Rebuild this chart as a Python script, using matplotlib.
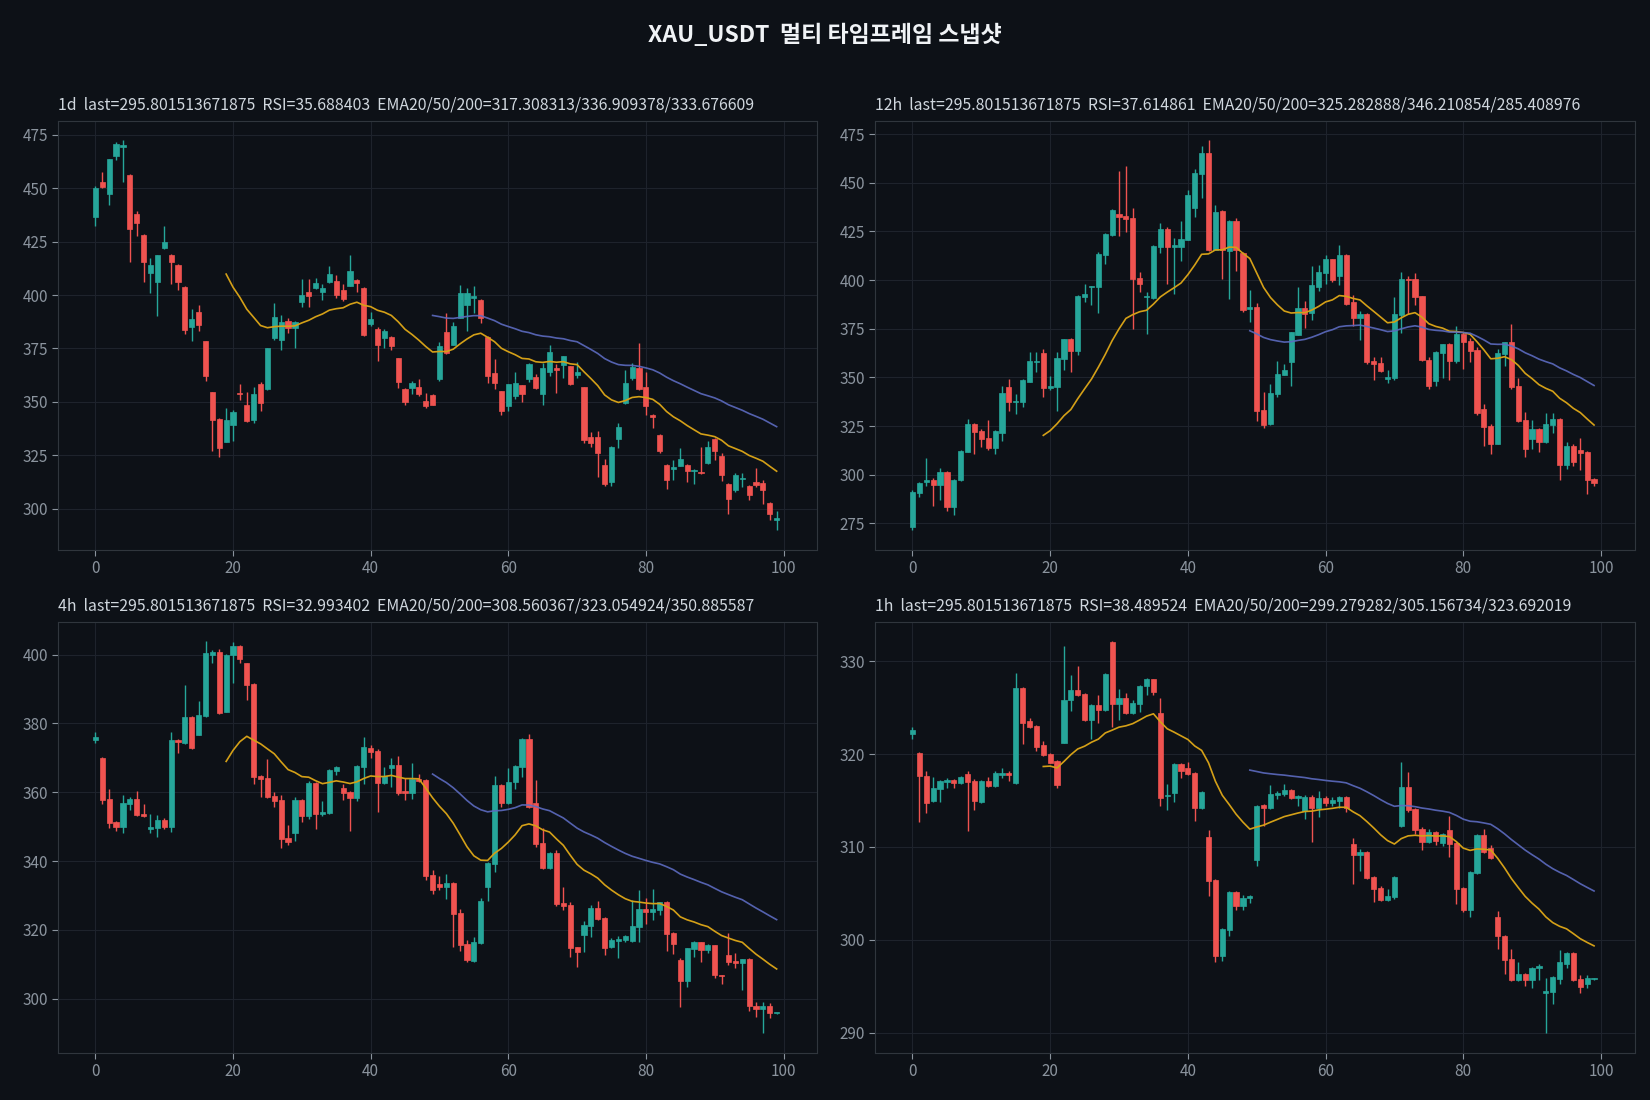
import numpy as np
import pandas as pd
import matplotlib
matplotlib.use('Agg')
import matplotlib.pyplot as plt
from matplotlib.ticker import MultipleLocator

plt.rcParams['font.family'] = ['Noto Sans CJK KR', 'DejaVu Sans']

symbol = 'XAU_USDT'
timeframes = ['1d', '12h', '4h', '1h']
last_price = '295.801513671875'
rsi_values = ['35.688403', '37.614861', '32.993402', '38.489524']
ema_values = ['317.308313/336.909378/333.676609',
              '325.282888/346.210854/285.408976',
              '308.560367/323.054924/350.885587',
              '299.279282/305.156734/323.692019']

# 1d candles
d1_open = [436.7, 452.7, 447.4, 465.1, 469.0, 455.9, 437.8, 428.0, 410.4, 406.0,
           421.8, 418.7, 414.1, 403.9, 385.1, 392.2, 378.3, 354.6, 342.0, 331.5,
           339.1, 354.2, 348.5, 341.5, 358.3, 356.0, 380.0, 379.1, 387.9, 384.8,
           396.9, 401.5, 403.1, 401.4, 406.0, 406.6, 402.5, 404.2, 407.1, 403.4,
           386.5, 383.9, 379.7, 380.6, 370.4, 356.0, 356.7, 357.0, 350.4, 353.2,
           360.5, 382.9, 376.6, 389.4, 395.3, 398.7, 397.8, 380.6, 363.4, 355.0,
           347.9, 352.6, 357.8, 360.5, 361.5, 353.6, 364.2, 365.7, 367.1, 366.7,
           362.6, 356.9, 333.6, 333.6, 320.6, 312.7, 332.7, 349.4, 361.1, 365.7,
           357.2, 343.9, 334.6, 320.6, 318.8, 320.2, 320.6, 317.8, 317.4, 321.4,
           332.7, 324.8, 311.8, 309.0, 314.1, 310.9, 312.7, 312.3, 302.9, 294.6]
d1_high = [451.0, 457.5, 463.4, 471.4, 472.4, 456.4, 439.4, 428.3, 417.5, 418.9,
           432.4, 419.0, 414.4, 404.2, 393.3, 395.2, 378.5, 354.8, 342.3, 347.1,
           346.4, 358.3, 354.6, 357.0, 359.5, 375.2, 396.4, 390.8, 389.4, 387.8,
           407.3, 407.3, 408.1, 405.0, 413.8, 409.4, 405.3, 418.9, 407.4, 403.8,
           392.2, 385.0, 384.3, 380.9, 370.7, 356.3, 360.0, 360.8, 354.3, 353.6,
           377.8, 391.5, 387.3, 404.5, 403.1, 404.0, 398.1, 380.9, 370.1, 355.3,
           358.6, 364.0, 358.1, 368.2, 363.1, 368.2, 376.6, 367.7, 371.5, 367.0,
           368.5, 357.2, 336.1, 336.6, 323.4, 329.6, 340.3, 364.8, 368.0, 377.4,
           363.9, 344.2, 334.9, 320.9, 322.9, 328.5, 320.9, 318.8, 329.0, 331.8,
           333.0, 326.2, 312.1, 316.9, 316.6, 311.3, 319.2, 313.6, 303.4, 299.2]
d1_low = [432.4, 449.9, 442.3, 463.2, 453.0, 415.3, 427.7, 406.0, 400.9, 390.2,
          421.6, 405.1, 402.3, 381.8, 378.4, 383.0, 359.8, 327.3, 324.2, 331.2,
          331.9, 351.0, 340.6, 340.0, 345.6, 355.8, 379.0, 374.4, 382.3, 375.0,
          394.4, 394.4, 402.8, 397.7, 405.6, 398.6, 397.2, 404.0, 401.4, 380.9,
          385.6, 369.1, 375.3, 374.4, 356.7, 348.8, 353.9, 353.0, 347.0, 348.4,
          360.0, 372.5, 376.4, 389.2, 383.2, 391.5, 387.0, 358.8, 356.0, 343.7,
          346.0, 351.2, 349.9, 359.5, 356.1, 348.8, 362.3, 354.4, 361.2, 358.0,
          361.1, 330.9, 328.8, 315.0, 310.9, 310.9, 328.5, 349.2, 360.2, 355.7,
          344.0, 337.8, 326.2, 309.5, 313.6, 320.0, 312.7, 311.8, 316.5, 321.0,
          322.9, 313.2, 297.8, 308.1, 310.4, 304.3, 310.0, 302.5, 295.0, 289.9]
d1_close = [449.9, 450.7, 463.4, 470.8, 470.0, 431.1, 433.6, 415.3, 414.1, 418.7,
            424.9, 415.3, 406.0, 383.7, 388.7, 386.0, 362.3, 341.5, 328.4, 341.5,
            345.3, 353.5, 340.9, 353.6, 349.3, 375.0, 389.9, 387.6, 384.8, 387.6,
            400.1, 399.7, 405.7, 403.4, 409.9, 400.1, 398.1, 411.3, 405.7, 381.4,
            388.7, 376.6, 383.4, 376.3, 359.5, 350.2, 358.9, 353.5, 347.9, 348.8,
            376.0, 373.0, 385.3, 401.0, 401.0, 399.7, 389.4, 362.0, 358.8, 345.7,
            358.3, 358.8, 353.9, 367.6, 356.4, 365.7, 373.2, 365.1, 371.3, 358.3,
            363.9, 332.4, 330.9, 326.2, 311.8, 329.0, 338.3, 358.8, 366.2, 356.0,
            348.1, 343.1, 327.0, 313.6, 319.5, 323.4, 317.8, 318.3, 316.7, 329.0,
            327.1, 316.0, 304.8, 316.0, 314.6, 306.7, 311.3, 309.0, 297.4, 295.8]

# 12h candles
h12_open = [273.3, 290.4, 296.0, 297.0, 294.8, 301.6, 283.5, 297.0, 311.8, 326.2,
            322.6, 319.0, 313.9, 321.5, 345.1, 337.4, 337.4, 347.6, 357.9, 362.5,
            344.6, 345.1, 359.4, 369.6, 363.5, 391.1, 396.2, 396.2, 413.1, 423.3,
            434.1, 433.0, 432.0, 401.2, 391.1, 390.9, 417.2, 426.4, 417.2, 417.2,
            420.8, 437.1, 454.5, 465.3, 415.5, 435.6, 415.2, 430.5, 414.1, 385.0,
            386.0, 333.3, 326.2, 341.5, 351.2, 357.9, 372.0, 385.5, 382.9, 396.6,
            403.4, 410.6, 401.9, 413.1, 388.6, 380.4, 382.4, 358.4, 357.4, 349.2,
            349.7, 381.9, 400.8, 400.8, 391.6, 358.9, 348.1, 362.5, 367.1, 358.4,
            372.2, 368.6, 364.0, 333.8, 325.1, 315.9, 362.0, 368.1, 345.6, 328.2,
            318.5, 323.6, 316.9, 325.6, 328.7, 305.2, 314.9, 312.9, 311.8, 298.0]
h12_high = [292.0, 296.1, 308.4, 298.5, 303.6, 301.9, 297.8, 312.5, 328.7, 326.7,
            323.6, 328.2, 322.8, 345.6, 349.2, 341.5, 349.2, 363.0, 363.0, 364.5,
            350.7, 363.0, 369.8, 370.1, 392.1, 397.8, 396.9, 414.6, 424.0, 436.3,
            456.1, 458.6, 437.1, 404.0, 393.7, 417.9, 429.1, 427.4, 421.8, 430.5,
            446.4, 457.1, 468.9, 471.9, 438.7, 435.9, 430.7, 432.0, 414.4, 394.7,
            388.0, 342.5, 346.6, 358.4, 356.8, 373.4, 396.2, 389.1, 407.0, 407.5,
            413.1, 410.9, 418.2, 413.4, 392.1, 384.0, 382.9, 360.4, 360.4, 353.8,
            391.1, 403.9, 401.9, 403.4, 391.9, 360.4, 363.5, 367.3, 367.6, 376.3,
            373.2, 370.1, 365.5, 336.4, 326.2, 364.5, 368.3, 377.3, 349.7, 332.3,
            328.2, 323.9, 331.8, 331.8, 329.0, 316.9, 315.9, 319.0, 312.1, 298.5]
h12_low = [271.3, 288.6, 294.3, 284.0, 287.1, 281.5, 279.4, 296.8, 311.6, 310.8,
           314.4, 312.9, 310.8, 317.5, 332.8, 331.3, 334.8, 347.4, 352.8, 340.0,
           343.5, 332.8, 353.8, 352.8, 361.4, 388.6, 387.0, 382.9, 408.5, 422.8,
           422.8, 424.9, 375.1, 394.0, 372.2, 390.4, 414.0, 397.8, 393.0, 410.0,
           420.6, 432.4, 442.3, 415.0, 415.3, 400.8, 390.1, 404.8, 383.4, 378.3,
           327.7, 324.1, 325.6, 340.0, 351.0, 345.6, 371.7, 375.3, 379.3, 394.2,
           397.8, 398.8, 397.3, 387.4, 376.3, 369.0, 356.8, 348.7, 352.8, 347.1,
           348.7, 372.7, 382.4, 387.0, 358.4, 344.1, 345.6, 349.7, 348.7, 357.4,
           354.3, 357.9, 330.8, 314.9, 310.8, 315.7, 355.8, 344.1, 327.2, 309.3,
           313.4, 311.8, 316.4, 321.5, 297.5, 303.1, 304.2, 302.6, 289.8, 294.4]
h12_close = [290.9, 295.5, 297.0, 294.8, 301.6, 283.5, 297.5, 312.3, 326.2, 322.1,
             318.5, 313.9, 322.6, 342.0, 337.4, 337.9, 348.7, 358.4, 358.4, 344.6,
             345.6, 359.9, 369.6, 363.5, 391.6, 392.6, 396.7, 413.6, 423.8, 436.1,
             432.5, 431.5, 400.7, 397.8, 391.6, 417.7, 426.4, 417.2, 417.7, 421.3,
             443.8, 455.1, 465.3, 415.5, 435.1, 415.5, 430.5, 415.5, 384.5, 386.0,
             332.8, 325.6, 342.0, 351.7, 353.8, 373.2, 385.5, 382.8, 397.3, 404.4,
             410.6, 399.8, 413.1, 387.9, 380.4, 382.4, 357.9, 356.8, 353.3, 350.2,
             382.4, 400.8, 399.8, 391.1, 358.9, 345.6, 363.0, 367.1, 358.4, 372.2,
             368.1, 363.5, 331.8, 324.6, 315.9, 362.5, 368.1, 345.1, 327.7, 313.4,
             323.6, 316.9, 326.2, 328.7, 305.2, 314.9, 306.7, 311.3, 297.5, 295.8]

# 4h candles
h4_open = [375.2, 370.0, 358.1, 351.4, 349.9, 356.5, 358.1, 353.7, 349.4, 349.6,
           351.9, 349.9, 375.2, 374.3, 381.9, 376.7, 382.1, 400.0, 400.6, 383.4,
           400.0, 402.6, 397.4, 391.3, 364.8, 364.2, 358.9, 357.8, 346.7, 348.1,
           357.8, 353.1, 362.7, 353.7, 354.0, 366.2, 361.3, 360.1, 358.3, 367.4,
           372.9, 372.0, 362.7, 367.1, 368.0, 360.4, 359.8, 363.9, 363.6, 335.9,
           333.3, 332.4, 333.6, 324.8, 315.8, 310.9, 316.1, 332.4, 339.1, 362.1,
           356.9, 363.0, 367.4, 375.5, 356.9, 345.2, 338.0, 342.3, 327.8, 327.2,
           314.9, 318.4, 321.1, 326.3, 323.4, 314.9, 316.7, 317.0, 316.7, 320.8,
           326.0, 325.1, 325.7, 328.0, 319.0, 311.2, 305.0, 314.4, 316.4, 314.1,
           315.5, 306.8, 312.6, 310.9, 310.3, 311.4, 298.0, 296.9, 297.8, 295.7]
h4_high = [377.6, 370.2, 360.8, 351.6, 359.2, 358.6, 360.4, 356.6, 353.7, 353.4,
           352.5, 377.6, 375.4, 391.1, 382.2, 386.6, 403.8, 401.3, 401.5, 400.2,
           403.5, 402.9, 397.6, 391.8, 365.0, 369.7, 360.1, 359.2, 350.5, 358.6,
           358.1, 363.3, 363.0, 357.5, 366.7, 367.6, 362.4, 360.4, 368.0, 376.1,
           373.8, 372.6, 367.4, 370.0, 370.6, 364.2, 368.5, 365.3, 363.9, 337.4,
           335.6, 336.2, 333.9, 326.0, 317.0, 317.9, 329.2, 339.6, 364.8, 362.4,
           367.1, 367.9, 375.7, 377.0, 363.6, 349.6, 342.6, 343.2, 332.4, 328.0,
           315.1, 322.5, 327.2, 328.3, 323.7, 317.6, 318.1, 318.4, 328.6, 331.5,
           329.2, 331.8, 328.2, 328.3, 319.3, 311.7, 314.8, 316.7, 316.6, 315.8,
           315.7, 307.0, 319.0, 313.2, 311.6, 311.7, 298.9, 298.9, 298.6, 295.9]
h4_low = [374.3, 356.5, 349.5, 348.6, 348.2, 354.8, 353.0, 352.7, 348.0, 347.0,
          349.3, 348.4, 371.5, 374.0, 372.5, 376.5, 381.9, 397.4, 382.8, 383.2,
          391.8, 397.6, 386.9, 362.4, 358.6, 358.3, 355.7, 343.8, 344.6, 345.7,
          351.4, 352.2, 349.2, 353.1, 353.8, 365.0, 357.8, 348.6, 357.5, 362.4,
          370.0, 354.2, 362.5, 361.5, 359.2, 357.8, 358.1, 363.1, 334.5, 330.4,
          331.5, 328.9, 314.9, 313.8, 310.6, 310.6, 315.8, 328.3, 336.8, 355.7,
          356.6, 361.0, 364.5, 355.4, 344.1, 337.8, 337.7, 326.9, 325.7, 312.0,
          309.1, 313.5, 317.9, 322.9, 312.6, 314.7, 311.7, 316.4, 316.5, 316.4,
          321.6, 322.8, 324.3, 313.8, 312.9, 297.5, 303.3, 312.0, 310.6, 313.2,
          305.9, 304.2, 309.7, 308.8, 302.4, 296.3, 294.8, 289.9, 294.3, 295.6]
h4_close = [376.0, 357.7, 351.1, 349.9, 356.9, 358.1, 353.3, 353.0, 349.9, 351.9,
            349.9, 375.2, 374.7, 381.9, 372.8, 382.5, 400.3, 400.6, 383.0, 400.0,
            402.6, 398.8, 391.0, 364.5, 363.9, 358.6, 357.5, 346.4, 345.4, 357.8,
            353.1, 362.7, 353.7, 354.3, 366.5, 367.4, 359.8, 358.3, 367.7, 373.2,
            371.7, 362.7, 364.8, 368.0, 359.8, 359.8, 363.9, 363.3, 335.6, 331.5,
            332.4, 333.6, 324.6, 315.5, 311.2, 316.4, 328.3, 339.4, 362.1, 356.9,
            363.0, 367.7, 375.5, 355.7, 344.9, 338.0, 342.3, 327.5, 326.9, 314.6,
            313.5, 321.3, 326.3, 323.1, 314.6, 317.0, 317.3, 318.1, 321.1, 326.0,
            325.1, 326.0, 328.0, 318.7, 315.8, 305.0, 314.6, 316.4, 314.1, 315.5,
            306.8, 306.5, 310.6, 310.3, 311.4, 297.8, 296.9, 297.8, 295.7, 295.8]

# 1h candles
h1_open = [322.15, 320.1, 317.6, 314.95, 316.25, 317.0, 317.2, 316.9, 317.85, 317.1,
           314.85, 317.1, 316.55, 317.8, 317.95, 316.9, 327.1, 323.55, 323.0, 321.0,
           320.0, 319.25, 321.25, 325.8, 326.9, 326.5, 323.7, 325.35, 324.8, 332.05,
           325.45, 326.0, 324.4, 325.45, 327.3, 328.05, 324.4, 315.5, 315.8, 318.9,
           318.5, 317.95, 314.2, 311.1, 306.45, 298.2, 301.1, 305.15, 303.65, 304.5,
           308.6, 314.5, 314.2, 315.6, 315.7, 316.15, 315.3, 313.9, 315.4, 314.2,
           315.3, 314.75, 314.95, 315.4, 310.3, 309.15, 309.45, 306.8, 305.6, 304.3,
           304.6, 312.25, 316.45, 314.1, 311.95, 310.55, 311.6, 310.45, 311.85, 310.45,
           305.6, 303.2, 307.2, 311.3, 309.9, 302.5, 300.45, 297.95, 295.7, 296.35,
           295.7, 296.9, 294.3, 294.4, 295.8, 297.4, 298.6, 295.8, 295.2, 295.75]
h1_high = [322.9, 320.2, 318.2, 317.5, 317.2, 317.4, 317.3, 317.6, 318.2, 317.3,
           317.2, 317.5, 318.2, 318.5, 318.2, 328.8, 327.2, 323.9, 323.1, 321.4,
           320.1, 319.35, 331.7, 328.5, 329.5, 326.6, 325.45, 326.35, 328.7, 332.15,
           327.0, 326.55, 325.8, 327.5, 328.25, 328.15, 326.0, 316.8, 319.0, 319.0,
           319.15, 318.05, 316.0, 311.85, 306.55, 301.3, 305.25, 305.25, 304.85, 304.85,
           314.5, 314.6, 316.65, 316.0, 316.8, 316.25, 315.6, 315.6, 315.6, 316.0,
           315.5, 315.4, 315.5, 315.5, 310.95, 309.8, 309.55, 306.9, 305.8, 305.5,
           306.9, 319.2, 318.05, 314.2, 312.15, 311.95, 311.7, 311.5, 313.35, 310.55,
           305.7, 307.4, 311.4, 311.95, 310.2, 303.1, 300.55, 299.05, 297.65, 296.45,
           297.1, 297.4, 295.9, 296.1, 298.9, 298.7, 298.7, 296.25, 296.25, 295.85]
h1_low = [321.6, 312.65, 313.7, 314.85, 314.85, 316.35, 316.35, 316.8, 311.7, 314.0,
          314.75, 316.45, 316.45, 317.4, 317.1, 316.8, 321.05, 322.8, 320.3, 319.8,
          319.0, 316.35, 321.15, 324.6, 326.3, 323.6, 321.6, 323.4, 324.7, 322.9,
          323.7, 324.3, 324.3, 324.5, 326.4, 326.4, 314.4, 314.0, 314.85, 317.4,
          317.75, 312.8, 314.1, 304.75, 297.65, 297.75, 300.45, 303.2, 303.2, 304.0,
          307.95, 312.25, 314.1, 315.15, 315.5, 315.15, 314.4, 313.0, 310.55, 313.2,
          314.4, 314.4, 314.2, 313.75, 306.0, 307.4, 306.55, 304.1, 304.2, 304.2,
          304.4, 312.15, 313.75, 311.4, 309.7, 310.45, 310.2, 310.1, 308.9, 303.8,
          303.0, 302.4, 307.1, 309.35, 308.7, 299.05, 296.35, 295.6, 295.6, 295.05,
          294.75, 295.7, 289.9, 293.1, 295.2, 296.9, 295.5, 294.3, 294.85, 295.7]
h1_close = [322.65, 317.6, 314.7, 316.35, 317.1, 317.2, 316.9, 317.5, 317.0, 314.95,
            317.1, 316.55, 317.95, 317.95, 317.8, 327.1, 323.4, 322.9, 320.8, 319.9,
            319.1, 316.7, 325.8, 326.9, 326.4, 323.7, 325.35, 324.8, 328.6, 325.45,
            326.0, 324.4, 325.55, 327.4, 328.05, 326.75, 315.3, 315.6, 318.9, 318.2,
            317.85, 314.2, 315.9, 306.35, 298.2, 301.2, 305.15, 303.65, 304.5, 304.75,
            314.4, 314.2, 315.7, 315.8, 316.15, 315.3, 315.5, 315.4, 314.2, 315.3,
            314.75, 315.05, 315.4, 314.2, 309.15, 309.45, 306.7, 305.5, 304.3, 304.75,
            306.8, 316.45, 314.0, 311.85, 310.55, 311.6, 310.65, 311.4, 310.3, 305.5,
            303.2, 307.3, 311.3, 309.45, 308.8, 300.35, 297.85, 295.7, 296.35, 295.7,
            297.0, 297.2, 294.5, 296.0, 297.65, 298.6, 295.7, 294.95, 295.9, 295.8]

ohlc = [(d1_open, d1_high, d1_low, d1_close),
        (h12_open, h12_high, h12_low, h12_close),
        (h4_open, h4_high, h4_low, h4_close),
        (h1_open, h1_high, h1_low, h1_close)]
y_steps = [25, 25, 20, 10]


def ema(values, span):
    # EMA seeded with the simple average of the first `span` closes
    out = np.full(len(values), np.nan)
    alpha = 2.0 / (span + 1)
    out[span - 1] = np.mean(values[:span])
    for i in range(span, len(values)):
        out[i] = alpha * values[i] + (1 - alpha) * out[i - 1]
    return out


bg = '#0d1117'
up_color = '#26a69a'
down_color = '#ef5350'
ema20_color = '#d4a017'
ema50_color = '#5c6bc0'

fig = plt.figure(figsize=(16.5, 11), dpi=100, facecolor=bg)
positions = [[0.0353, 0.5, 0.46, 0.3903],
             [0.5305, 0.5, 0.4602, 0.3903],
             [0.0353, 0.0427, 0.46, 0.392],
             [0.5305, 0.0427, 0.4602, 0.392]]

for k in range(4):
    ax = fig.add_axes(positions[k])
    ax.set_facecolor(bg)
    o, h, l, c = [np.array(v) for v in ohlc[k]]
    x = np.arange(len(c))
    colors = np.where(c >= o, up_color, down_color)

    ax.vlines(x, l, h, colors=colors, linewidth=1.0, zorder=2)
    body = np.maximum(np.abs(c - o), (h.max() - l.min()) * 0.003)
    ax.bar(x, body, bottom=np.minimum(o, c), width=0.75, color=colors,
           edgecolor=colors, linewidth=0.5, zorder=3)

    ax.plot(x, ema(c, 20), color=ema20_color, linewidth=1.2, zorder=4)
    ax.plot(x, ema(c, 50), color=ema50_color, linewidth=1.2, alpha=0.9, zorder=4)

    ax.set_xlim(-5.4, 104.9)
    ax.yaxis.set_major_locator(MultipleLocator(y_steps[k]))
    ax.grid(True, color='#1e232c', linewidth=0.8, zorder=0)
    ax.set_axisbelow(True)
    for s in ax.spines.values():
        s.set_color('#30363d')
    ax.tick_params(colors='#8b949e', labelsize=11, length=4)

    title = f'{timeframes[k]}  last={last_price}  RSI={rsi_values[k]}  EMA20/50/200={ema_values[k]}'
    ax.set_title(title, loc='left', fontsize=11.4, color='#d0d7de', pad=8)

fig.text(0.5, 1 - 35 / 1100, f'{symbol}  멀티 타임프레임 스냅샷', ha='center', va='center',
         fontsize=16.5, fontweight='bold', color='#f0f3f6')

plt.savefig('out.png', dpi=100, facecolor=bg)
plt.close()
